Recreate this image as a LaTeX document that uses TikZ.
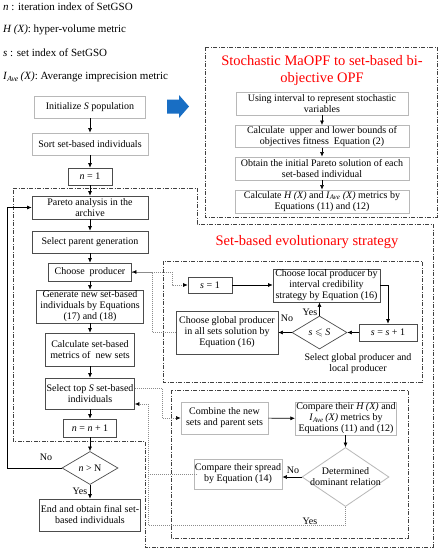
\documentclass[tikz,border=0pt]{standalone}
\usepackage{fontspec}
\setmainfont{Liberation Serif}
\usepackage{amssymb}
\usetikzlibrary{arrows.meta,shapes.geometric}
\tikzset{
 darkbox/.style={draw=black!70, line width=0.7pt, align=center, inner sep=1pt, fill=white},
 lightbox/.style={draw=black!28, line width=0.8pt, align=center, inner sep=1pt, fill=white},
 darkdia/.style={shape=diamond, draw=black!70, line width=0.7pt, inner sep=0pt, fill=white},
 lightdia/.style={shape=diamond, draw=black!28, line width=0.8pt, inner sep=0pt, fill=white},
 arr/.style={-{Latex[length=4.5pt,width=4pt]}, line width=0.6pt, draw=black},
 dotarr/.style={-{Latex[length=4.5pt,width=4pt,color=black]}, line width=0.6pt, draw=black!45, dash pattern=on 1pt off 1pt},
 dotline/.style={line width=0.6pt, draw=black!45, dash pattern=on 1pt off 1pt},
 dashdot/.style={draw=black!75, line width=0.6pt, dash pattern=on 4pt off 1.5pt on 1pt off 1.5pt},
 redtitle/.style={text=red, font=\fontsize{14.5}{17}\selectfont, align=center, inner sep=0pt},
 legend/.style={anchor=west, inner sep=0pt, font=\fontsize{11}{12}\selectfont},
 lbl/.style={inner sep=0pt}
}
\begin{document}
\begin{tikzpicture}[x=1pt,y=-1pt,font=\fontsize{10}{11}\selectfont]
\useasboundingbox (0,0) rectangle (442,550);
\fill[white] (0,0) rectangle (442,550);

% legend
\node[legend] (lg1) at (3,7) {\textit{n} : iteration index of SetGSO};
\node[legend] (lg2) at (3,30) {\textit{H (X)}: hyper-volume metric};
\node[legend] (lg3) at (3,53) {\textit{s} : set index of SetGSO};
\node[legend] (lg4) at (3,77) {\textit{I}\textsubscript{\textit{Ave}}\,\textit{(X)}: Averange imprecision metric};

% dash-dot regions
\draw[dashdot] (205,47) rectangle (437,217);
\draw[dashdot] (13,188) -- (197,188) -- (197,224) -- (433,224) -- (433,547) -- (145,547) -- (145,441) -- (13,441) -- cycle;
\draw[dashdot] (163,261) rectangle (422,382);
\draw[dashdot] (171,390) rectangle (408,538);

% blue block arrow
\fill[color={rgb,255:red,24;green,110;blue,196}] (167,99.5) -- (179,99.5) -- (179,95) -- (189,106.5) -- (179,118) -- (179,113.5) -- (167,113.5) -- cycle;

% top-right block
\node[redtitle] (t1) at (322,70.5) {Stochastic MaOPF to set-based bi-\\objective OPF};
\node[lightbox, minimum width=172pt, minimum height=23pt] (u1) at (322,103.5) {Using interval to represent stochastic\\variables};
\node[lightbox, minimum width=174pt, minimum height=21pt] (u2) at (322,136.5) {Calculate\ \ upper and lower bounds of\\objectives fitness\ \ Equation (2)};
\node[lightbox, minimum width=174pt, minimum height=23pt] (u3) at (322,168.5) {Obtain the initial Pareto solution of each\\set-based individual};
\node[lightbox, minimum width=174pt, minimum height=23pt] (u4) at (322,201.5) {Calculate \textit{H (X)} and \textit{I}\textsubscript{\textit{Ave}} \textit{(X)} metrics by\\Equations (11) and (12)};
\draw[arr] (u1) -- (u2);
\draw[arr] (u2) -- (u3);
\draw[arr] (u3) -- (u4);

% left column
\node[lightbox, minimum width=111pt, minimum height=22pt] (init) at (90,107) {Initialize \textit{S} population};
\node[lightbox, minimum width=116pt, minimum height=22pt] (sort) at (90,144) {Sort set-based individuals};
\node[darkbox, minimum width=44pt, minimum height=17pt] (n1) at (90,176.5) {\textit{n} = 1};
\node[darkbox, minimum width=116pt, minimum height=23pt] (pareto) at (90,207.5) {Pareto analysis in the\\archive};
\node[darkbox, minimum width=116pt, minimum height=22pt] (parent) at (90,242) {Select parent generation};
\node[darkbox, minimum width=83pt, minimum height=18pt] (choose) at (90,272) {Choose\ \ producer};
\node[darkbox, minimum width=107pt, minimum height=33pt] (gen) at (90,306.5) {Generate new set-based\\individuals by Equations\\(17) and (18)};
\node[darkbox, minimum width=89pt, minimum height=33pt] (calc) at (90,349.5) {Calculate set-based\\metrics of\ \ new sets};
\node[darkbox, minimum width=89pt, minimum height=31pt] (seltop) at (90,393.5) {Select top \textit{S} set-based\\individuals};
\node[darkbox, minimum width=53pt, minimum height=18pt] (nn1) at (90,428) {\textit{n} = \textit{n} + 1};
\node[darkdia, minimum width=56pt, minimum height=33pt, label={center:\textit{n} > N}] (nN) at (90,468) {};
\node[darkbox, minimum width=99pt, minimum height=32pt] (end) at (90,515) {End and obtain final set-\\based individuals};

\draw[arr] (init) -- (sort);
\draw[arr] (sort) -- (n1);
\draw[arr] (n1) -- (pareto);
\draw[arr] (pareto) -- (parent);
\draw[arr] (parent) -- (choose);
\draw[arr] (choose) -- (gen);
\draw[arr] (gen) -- (calc);
\draw[arr] (calc) -- (seltop);
\draw[arr] (seltop) -- (nn1);
\draw[arr] (nn1) -- (nN);
\draw[arr] (nN) -- (end);
\draw[arr] (nN.west) -- (7,468) |- (pareto.west);
\node[lbl] (noN) at (46,457) {No};
\node[lbl] (yesN) at (80,491) {Yes};

% set-based evolutionary strategy
\node[redtitle] (t2) at (307,242) {Set-based evolutionary strategy};

\node[darkbox, minimum width=44pt, minimum height=16pt] (s1) at (210,285) {\textit{s} = 1};
\node[darkbox, minimum width=107pt, minimum height=33pt] (local) at (326.5,285.5) {Choose local producer by\\interval credibility\\strategy by Equation (16)};
\node[darkbox, minimum width=58pt, minimum height=17pt] (ss1) at (388,332.5) {\textit{s} = \textit{s} + 1};
\node[darkdia, minimum width=55pt, minimum height=33pt, label={center:\textit{s} $\leqslant$ \textit{S}}] (d1) at (319.5,332.5) {};
\node[darkbox, minimum width=102pt, minimum height=43pt] (global) at (227,332.5) {Choose global producer\\in all sets solution by\\Equation (16)};
\node[lbl, align=center] (selg) at (358,364) {Select global producer and\\local producer};

\draw[arr] (s1) -- (local.west |- s1);
\draw[arr] (local.east) -| (ss1.north);
\draw[arr] (ss1) -- (d1);
\draw[arr] (d1.north) -- (d1.north |- local.south);
\draw[arr] (d1) -- (global);
\node[lbl] (yes1) at (310,312) {Yes};
\node[lbl] (no1) at (287,318) {No};

\draw[dotarr] (choose.east) -- ([xshift=40pt]choose.east) |- (s1.west);
\draw[dotarr] (global.west) -| ([xshift=20pt]choose.east) -- (choose.east);

% comparison block
\node[lightbox, minimum width=87pt, minimum height=32pt] (combine) at (224.5,418) {Combine the new\\sets and parent sets};
\node[lightbox, minimum width=100pt, minimum height=33pt] (cmp) at (346,418.5) {Compare their \textit{H (X)} and\\\textit{I}\textsubscript{\textit{Ave}}\,\textit{(X)} metrics by\\Equations (11) and (12)};
\node[lightdia, minimum width=87pt, minimum height=59pt, label={[align=center]center:Determined\\dominant relation}] (d2) at (345.5,477) {};
\node[lightbox, minimum width=82pt, minimum height=30pt] (spread) at (238,474) {Compare their spread\\by Equation (14)};

\draw[arr] (combine) -- (cmp);
\draw[arr] (cmp.south -| d2.north) -- (d2.north);
\draw[arr] (d2.west) -- (d2.west -| spread.east);
\node[lbl] (no2) at (293,470) {No};

\draw[dotarr] ([yshift=5.5pt]seltop.east) -| (162,400) |- (combine.west);
\draw[dotarr] (spread.west -| 197,0) -| (148,430) |- ([yshift=-10.5pt]seltop.east);
\draw[dotline] (d2.south) |- (148,525) -- (148,474);
\node[lbl] (yes2) at (310,521) {Yes};
\end{tikzpicture}
\end{document}
